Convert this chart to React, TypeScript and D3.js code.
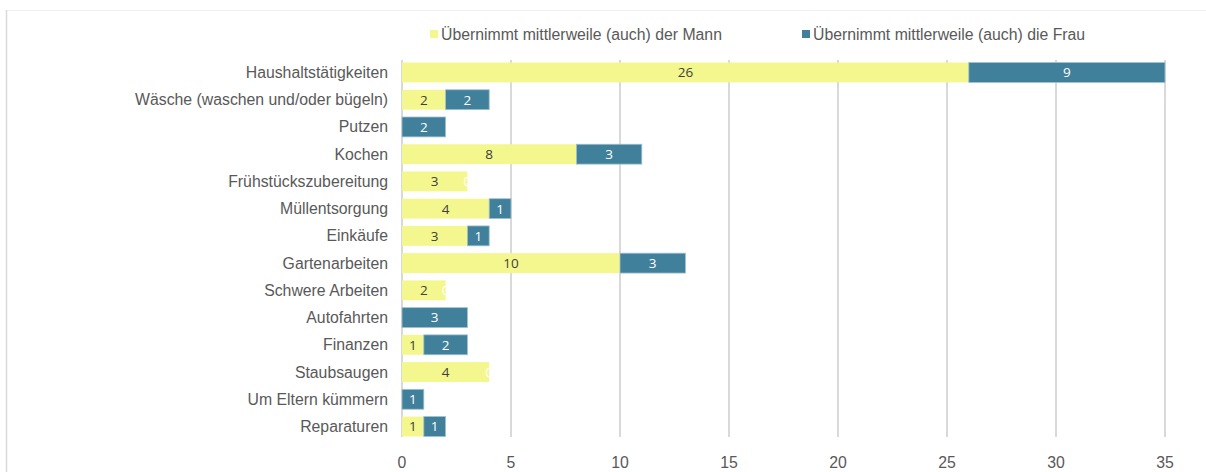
import * as d3 from "d3";
import { useEffect, useRef } from "react";

const categories = [
  "Haushaltstätigkeiten",
  "Wäsche (waschen und/oder bügeln)",
  "Putzen",
  "Kochen",
  "Frühstückszubereitung",
  "Müllentsorgung",
  "Einkäufe",
  "Gartenarbeiten",
  "Schwere Arbeiten",
  "Autofahrten ",
  "Finanzen",
  "Staubsaugen",
  "Um Eltern kümmern",
  "Reparaturen",
];
const mann = [26, 2, 0, 8, 3, 4, 3, 10, 2, 0, 1, 4, 0, 1];
const frau = [9, 2, 2, 3, 0, 1, 1, 3, 0, 3, 2, 0, 1, 1];
const seriesNames = [
  "Übernimmt mittlerweile (auch) der Mann",
  "Übernimmt mittlerweile (auch) die Frau",
];
const xTicks = [0, 5, 10, 15, 20, 25, 30, 35];

const App = () => {
  const svgRef = useRef<SVGSVGElement>(null);
  const width = 1206;
  const height = 472;

  useEffect(() => {
    const svg = d3.select(svgRef.current).attr("width", width).attr("height", height);
    svg.selectAll("*").remove();

    const font = "'Liberation Sans', Arial, sans-serif";
    const yellow = "#f3f78e";
    const blue = "#41809b";
    const textColor = "#595959";

    // chart frame
    svg.append("line").attr("x1", 6).attr("x2", width).attr("y1", 10.5).attr("y2", 10.5)
      .attr("stroke", "#f0f0f0");
    svg.append("line").attr("x1", 6.5).attr("x2", 6.5).attr("y1", 10).attr("y2", height)
      .attr("stroke", "#d9d9d9").attr("stroke-width", 1.5);

    const x = d3.scaleLinear().domain([0, 35]).range([402, 1165]);
    const y = d3.scaleBand().domain(categories).range([59, 440]).paddingInner(0.27).paddingOuter(0.13);

    // gridlines
    svg.append("g")
      .selectAll("line")
      .data(xTicks)
      .join("line")
      .attr("x1", (d) => x(d))
      .attr("x2", (d) => x(d))
      .attr("y1", 60)
      .attr("y2", 437)
      .attr("stroke", "#d9d9d9")
      .attr("stroke-width", 2);

    // tick labels
    svg.append("g")
      .selectAll("text")
      .data(xTicks)
      .join("text")
      .attr("x", (d) => x(d))
      .attr("y", 462)
      .attr("dy", "0.35em")
      .attr("text-anchor", "middle")
      .attr("font-family", font)
      .attr("font-size", 15.8)
      .attr("fill", textColor)
      .text((d) => d);

    // category labels
    svg.append("g")
      .selectAll("text")
      .data(categories)
      .join("text")
      .attr("x", 388)
      .attr("y", (d) => y(d)! + y.bandwidth() / 2)
      .attr("dy", "0.35em")
      .attr("text-anchor", "end")
      .attr("font-family", font)
      .attr("font-size", 15.8)
      .attr("fill", textColor)
      .text((d) => d);

    const rows = categories.map((c, i) => ({ c, m: mann[i], f: frau[i] }));

    // Mann bars
    svg.append("g")
      .selectAll("rect")
      .data(rows)
      .join("rect")
      .attr("x", x(0))
      .attr("y", (d) => y(d.c)!)
      .attr("width", (d) => x(d.m) - x(0))
      .attr("height", y.bandwidth())
      .attr("fill", yellow);

    // Frau bars
    svg.append("g")
      .selectAll("rect")
      .data(rows)
      .join("rect")
      .attr("x", (d) => x(d.m))
      .attr("y", (d) => y(d.c)!)
      .attr("width", (d) => x(d.m + d.f) - x(d.m))
      .attr("height", y.bandwidth())
      .attr("fill", blue)
      .attr("stroke", (d) => (d.f > 0 ? "#9fc0d0" : "none"))
      .attr("stroke-width", 0.8);

    // labels
    svg.append("g")
      .selectAll("text")
      .data(rows.filter((d) => d.m > 0))
      .join("text")
      .attr("x", (d) => (x(0) + x(d.m)) / 2)
      .attr("y", (d) => y(d.c)! + y.bandwidth() / 2)
      .attr("dy", "0.36em")
      .attr("text-anchor", "middle")
      .attr("font-family", "'Open Sans', sans-serif")
      .attr("font-size", 13.5)
      .attr("fill", "#404040")
      .text((d) => d.m);

    svg.append("g")
      .selectAll("text")
      .data(rows)
      .join("text")
      .attr("x", (d) => (x(d.m) + x(d.m + d.f)) / 2)
      .attr("y", (d) => y(d.c)! + y.bandwidth() / 2)
      .attr("dy", "0.36em")
      .attr("text-anchor", "middle")
      .attr("font-family", "'Open Sans', sans-serif")
      .attr("font-size", 13.5)
      .attr("fill", "#ffffff")
      .text((d) => d.f);

    // legend
    const legendX = [430, 802];
    const legend = svg.append("g")
      .selectAll("g")
      .data(seriesNames)
      .join("g")
      .attr("transform", (d, i) => `translate(${legendX[i]},34)`);
    legend.append("rect")
      .attr("x", 0)
      .attr("y", -4)
      .attr("width", 8)
      .attr("height", 8)
      .attr("fill", (d, i) => (i === 0 ? yellow : blue));
    legend.append("text")
      .attr("x", 11)
      .attr("dy", "0.35em")
      .attr("font-family", font)
      .attr("font-size", 15.8)
      .attr("fill", textColor)
      .text((d) => d);
  }, []);

  return <svg ref={svgRef} style={{ position: "absolute", left: 0, top: 0 }} />;
};

export default App;
